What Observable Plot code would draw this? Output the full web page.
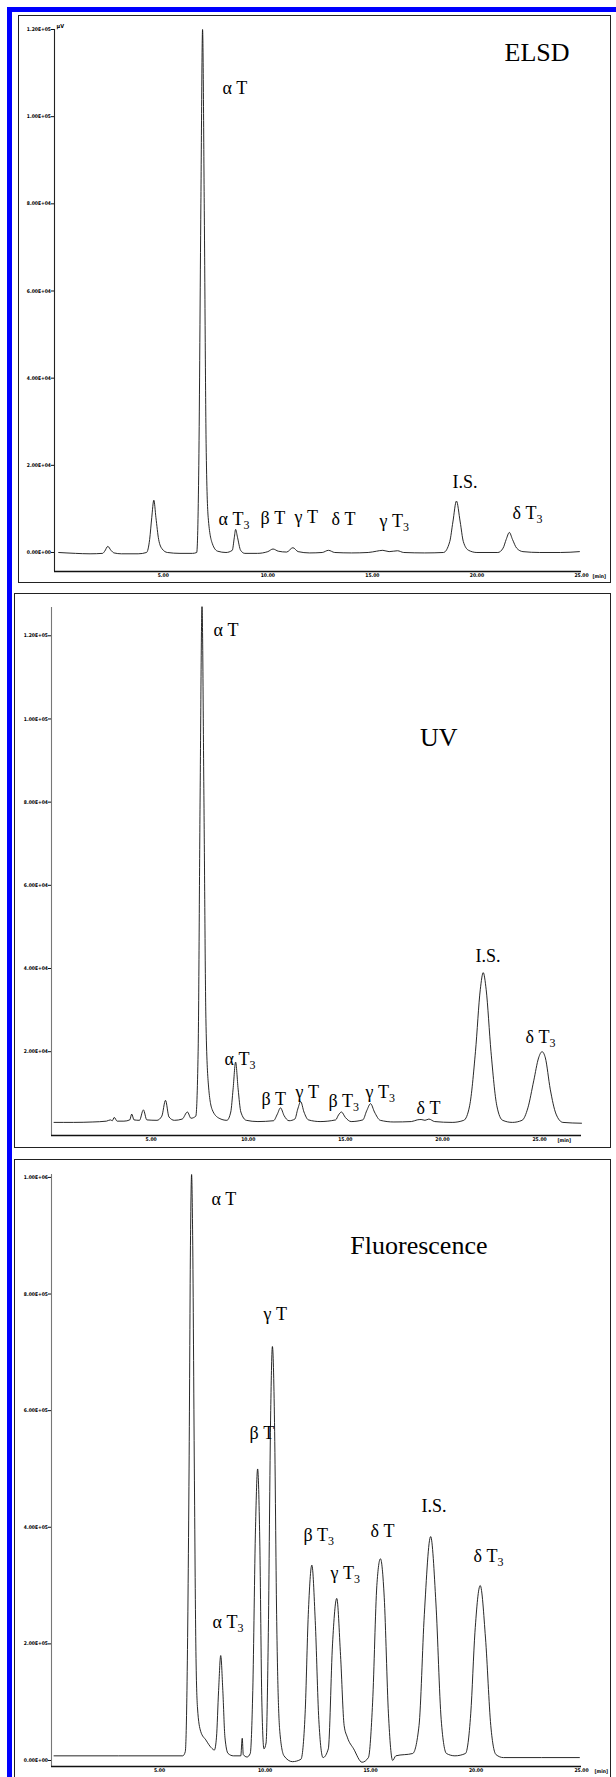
<!DOCTYPE html>
<html><head><meta charset="utf-8">
<script src="https://cdn.jsdelivr.net/npm/d3@7"></script>
<script src="https://cdn.jsdelivr.net/npm/@observablehq/plot@0.6"></script>
<style>
body{margin:0;background:#fff;}
#page{position:relative;width:616px;height:1777px;overflow:hidden;background:#fff;}
.blue{position:absolute;background:#0000ff;}
.panel{position:absolute;border:1.7px solid #222;box-sizing:border-box;}
.plot{position:absolute;left:0;}
.plot svg{overflow:visible;}
</style></head><body>
<div id="page">
  <div class="blue" style="left:7px;top:7px;width:5px;height:1770px"></div>
  <div class="blue" style="left:7px;top:7px;width:609px;height:5px"></div>
  <div class="panel" style="left:18px;top:15px;width:593px;height:568px"></div>
  <div class="panel" style="left:14px;top:593px;width:597px;height:555px"></div>
  <div class="panel" style="left:14px;top:1159px;width:597px;height:640px"></div>
  <div class="plot" id="elsd" style="top:0px"></div>
  <div class="plot" id="uv" style="top:590px"></div>
  <div class="plot" id="flu" style="top:1150px"></div>
</div>
<script>
// ---------- shared axis data ----------
const xTicks = [5, 10, 15, 20, 25];
const xTickLabels = ["5.00", "10.00", "15.00", "20.00", "25.00"];
const unitLabel = "[min]";

// ---------- ELSD ----------
const elsdYTicks = [0, 20000, 40000, 60000, 80000, 100000, 120000];
const elsdYTickLabels = ["0.00E+00", "2.00E+04", "4.00E+04", "6.00E+04", "8.00E+04", "1.00E+05", "1.20E+05"];
const elsdTime = [0.0, 0.8, 1.5, 2.1, 2.2, 2.35, 2.5, 2.65, 3.0, 3.8, 4.2, 4.35, 4.45, 4.55, 4.65, 4.78, 4.95, 5.2, 5.8, 6.4, 6.6, 6.7, 6.8, 6.88, 6.96, 7.05, 7.15, 7.35, 7.6, 8.0, 8.3, 8.4, 8.46, 8.55, 8.7, 8.9, 9.5, 10.0, 10.25, 10.5, 10.9, 11.2, 11.45, 12.0, 12.6, 12.9, 13.2, 14.0, 14.8, 15.2, 15.5, 15.8, 16.2, 16.5, 17.5, 18.4, 18.7, 18.85, 19.02, 19.2, 19.35, 19.6, 20.0, 21.0, 21.25, 21.4, 21.55, 21.7, 21.9, 22.2, 23.0, 24.0, 24.9];
const elsdSignal = [0, -200, -300, -200, 300, 1400, 500, -100, -300, -300, 0, 3000, 8000, 12000, 8000, 3000, 800, 0, -200, -200, 0, 20000, 80000, 120000, 80000, 25000, 8000, 2000, 300, 0, 500, 3500, 5300, 3500, 500, -200, -200, 200, 800, 300, 100, 1100, 200, -100, 0, 500, 0, -100, 0, 300, 500, 200, 400, 0, -100, 0, 2500, 7000, 11800, 7000, 2500, 500, 0, 0, 1000, 3000, 4600, 3000, 1000, 200, 0, 0, 200];
const elsdPeakNames = ["α T", "α T3", "β T", "γ T", "δ T", "γ T3", "I.S.", "δ T3"];
const elsdPeakTime = [7.83, 7.64, 9.65, 11.28, 13.05, 15.34, 18.83, 21.7];
const elsdPeakValue = [105300, 6400, 6650, 6880, 6400, 5960, 14700, 7800];

// ---------- UV ----------
const uvYTicks = [20000, 40000, 60000, 80000, 100000, 120000];
const uvYTickLabels = ["2.00E+04", "4.00E+04", "6.00E+04", "8.00E+04", "1.00E+05", "1.20E+05"];
const uvTime = [0.0, 1.0, 2.0, 2.7, 2.9, 3.0, 3.1, 3.25, 3.6, 3.9, 4.0, 4.12, 4.4, 4.6, 4.78, 5.3, 5.55, 5.74, 5.92, 6.2, 6.6, 6.87, 7.05, 7.3, 7.42, 7.52, 7.62, 7.72, 7.82, 7.95, 8.15, 8.5, 8.9, 9.1, 9.22, 9.35, 9.48, 9.62, 9.9, 10.5, 11.3, 11.5, 11.66, 11.85, 12.1, 12.4, 12.55, 12.7, 12.87, 13.1, 13.7, 14.5, 14.65, 14.8, 15.0, 15.3, 15.9, 16.1, 16.3, 16.5, 16.8, 17.5, 18.4, 18.7, 18.9, 19.1, 19.3, 19.6, 20.5, 21.1, 21.4, 21.7, 21.95, 22.1, 22.25, 22.5, 22.8, 23.1, 23.6, 24.1, 24.4, 24.7, 24.95, 25.13, 25.3, 25.55, 25.85, 26.2, 27.16];
const uvSignal = [3000, 3000, 3100, 3300, 3600, 3400, 4200, 3300, 3300, 3600, 5000, 3600, 3500, 6000, 3600, 3500, 4500, 8300, 4300, 3500, 3800, 5500, 4000, 4500, 20000, 80000, 127000, 80000, 28000, 12000, 6000, 4000, 3500, 5500, 11000, 17500, 11000, 5500, 3500, 3200, 3400, 5000, 6500, 4600, 3400, 3800, 6200, 8000, 5500, 3600, 3200, 3600, 4800, 5500, 4200, 3200, 3600, 5800, 7500, 5500, 3500, 3100, 3200, 3600, 3700, 3500, 3800, 3200, 3000, 3500, 7000, 20000, 35000, 39000, 35000, 20000, 7000, 3500, 3000, 3500, 6500, 13000, 18500, 20000, 18500, 11000, 5000, 3000, 2800];
const uvPeakNames = ["α T", "α T3", "β T", "γ T", "β T3", "γ T3", "δ T", "I.S.", "δ T3"];
const uvPeakTime = [8.21, 8.78, 10.68, 12.43, 14.13, 16.04, 18.67, 21.7, 24.28];
const uvPeakValue = [120000, 16900, 7300, 8750, 6600, 8750, 4900, 41500, 22000];

// ---------- Fluorescence ----------
const fluYTicks = [0, 200000, 400000, 600000, 800000, 1000000];
const fluYTickLabels = ["0.00E+00", "2.00E+05", "4.00E+05", "6.00E+05", "8.00E+05", "1.00E+06"];
const fluTime = [0.0, 6.1, 6.22, 6.3, 6.4, 6.47, 6.52, 6.57, 6.65, 6.72, 6.8, 6.95, 7.2, 7.45, 7.6, 7.7, 7.8, 7.9, 8.0, 8.1, 8.25, 8.5, 8.85, 8.92, 8.97, 9.15, 9.3, 9.42, 9.55, 9.65, 9.75, 9.85, 9.95, 10.05, 10.15, 10.27, 10.35, 10.45, 10.55, 10.7, 10.9, 11.3, 11.7, 11.9, 12.05, 12.22, 12.38, 12.55, 12.75, 13.0, 13.2, 13.4, 13.58, 13.75, 13.9, 14.2, 14.6, 14.9, 15.1, 15.3, 15.47, 15.65, 15.85, 16.05, 16.2, 17.0, 17.3, 17.55, 17.85, 18.1, 18.35, 18.6, 19.0, 19.5, 19.75, 19.95, 20.2, 20.45, 20.7, 20.95, 21.3, 24.9];
const fluSignal = [8000, 8000, 15000, 120000, 500000, 900000, 1005000, 900000, 500000, 200000, 90000, 50000, 35000, 22000, 18000, 40000, 120000, 180000, 120000, 40000, 12000, 8000, 8000, 38000, 10000, 6000, 12000, 120000, 400000, 500000, 380000, 100000, 20000, 30000, 200000, 600000, 710000, 580000, 250000, 50000, 8000, -2000, 2000, 80000, 250000, 335000, 240000, 70000, 5000, 20000, 200000, 278000, 180000, 60000, 40000, 20000, -3000, 5000, 100000, 300000, 346000, 280000, 80000, 0, 8000, 12000, 60000, 250000, 384000, 270000, 70000, 12000, 8000, 12000, 80000, 220000, 300000, 210000, 60000, 10000, 5000, 5000];
const fluPeakNames = ["α T", "α T3", "β T", "γ T", "β T3", "γ T3", "δ T", "I.S.", "δ T3"];
const fluPeakTime = [7.46, 7.51, 9.27, 9.93, 11.82, 13.1, 15.0, 17.42, 19.88];
const fluPeakValue = [952000, 228000, 552000, 755000, 377000, 312000, 384000, 427000, 340000];

const serif = "'Liberation Serif', 'Times New Roman', serif";
const cond = "'DejaVu Sans Condensed', 'DejaVu Sans', sans-serif";

function makePanel(c) {
  const pts = c.time.map((t, i) => ({t, v: c.signal[i]}));
  const labels = c.names.map((n, i) => ({n, t: c.ltime[i], v: c.lvalue[i]}));
  const marks = [
    Plot.ruleX([c.xDomain[0]], {stroke: c.yAxisColor, strokeWidth: 1.1}),
    Plot.ruleY([c.yDomain[0]], {stroke: "#111", strokeWidth: 1.3}),
    Plot.axisY({ticks: c.yTicks, tickFormat: d => c.yLabels[c.yTicks.indexOf(d)], tickSize: 3, tickPadding: 0.5, fontSize: 5, fontWeight: "bold", fontFamily: cond, label: null, stroke: "#111", fill: "#000"}),
    Plot.axisX({ticks: xTicks, tickFormat: d => xTickLabels[xTicks.indexOf(d)], tickSize: 0, tickPadding: 2, fontSize: 5, fontWeight: "bold", fontFamily: cond, label: null, fill: "#000"}),
    Plot.line(pts, {x: "t", y: "v", curve: "monotone-x", stroke: "#111", strokeWidth: 0.9}),
    Plot.text(labels, {x: "t", y: "v", text: "n", textAnchor: "start", lineAnchor: "bottom", fontFamily: serif, fontSize: 18, fill: "#000"}),
    Plot.text([c.title], {frameAnchor: "top-right", dx: c.tdx, dy: c.tdy, textAnchor: "end", lineAnchor: "bottom", fontFamily: serif, fontSize: 26, fill: "#000"}),
    Plot.text([unitLabel], {frameAnchor: "bottom-right", dx: c.udx, dy: 4.5, textAnchor: "start", lineAnchor: "middle", fontFamily: cond, fontWeight: "bold", fontSize: 5, fill: "#000"})
  ];
  if (c.yUnit) marks.push(Plot.text([c.yUnit], {frameAnchor: "top-left", dx: 2, dy: -2, textAnchor: "start", lineAnchor: "bottom", fontFamily: cond, fontWeight: "bold", fontSize: 5.5, fill: "#000"}));
  const svg = Plot.plot({
    width: 616, height: c.height,
    marginLeft: c.ml, marginRight: c.mr, marginTop: c.mt, marginBottom: c.mb,
    style: {background: "transparent", overflow: "visible", color: "#111"},
    x: {domain: c.xDomain},
    y: {domain: c.yDomain},
    marks
  });
  d3.select(svg).selectAll("text").each(function() {
    const s = this.textContent;
    if (c.names.includes(s) && s.endsWith("3")) {
      const el = d3.select(this);
      el.text(s.slice(0, -1));
      el.append("tspan").attr("font-size", 12).attr("dy", 4).text("3");
    }
  });
  document.getElementById(c.id).appendChild(svg);
}

makePanel({id: "elsd", height: 600, ml: 54, mr: 35, mt: 29, mb: 29,
  xDomain: [-0.2, 25], yDomain: [-4360, 120000], yAxisColor: "#222",
  time: elsdTime, signal: elsdSignal, names: elsdPeakNames, ltime: elsdPeakTime, lvalue: elsdPeakValue,
  yTicks: elsdYTicks, yLabels: elsdYTickLabels, title: "ELSD", tdx: -12, tdy: 31, udx: 11, yUnit: "µV"});

makePanel({id: "uv", height: 560, ml: 51, mr: 35, mt: 17, mb: 15,
  xDomain: [-0.13, 27.16], yDomain: [-150, 126800], yAxisColor: "#777",
  time: uvTime, signal: uvSignal, names: uvPeakNames, ltime: uvPeakTime, lvalue: uvPeakValue,
  yTicks: uvYTicks, yLabels: uvYTickLabels, title: "UV", tdx: -124, tdy: 138, udx: -24});

makePanel({id: "flu", height: 627, ml: 51, mr: 35, mt: 24, mb: 11,
  xDomain: [-0.12, 25], yDomain: [-10300, 1005000], yAxisColor: "#777",
  time: fluTime, signal: fluSignal, names: fluPeakNames, ltime: fluPeakTime, lvalue: fluPeakValue,
  yTicks: fluYTicks, yLabels: fluYTickLabels, title: "Fluorescence", tdx: -94, tdy: 79, udx: 13});
</script>
</body></html>
